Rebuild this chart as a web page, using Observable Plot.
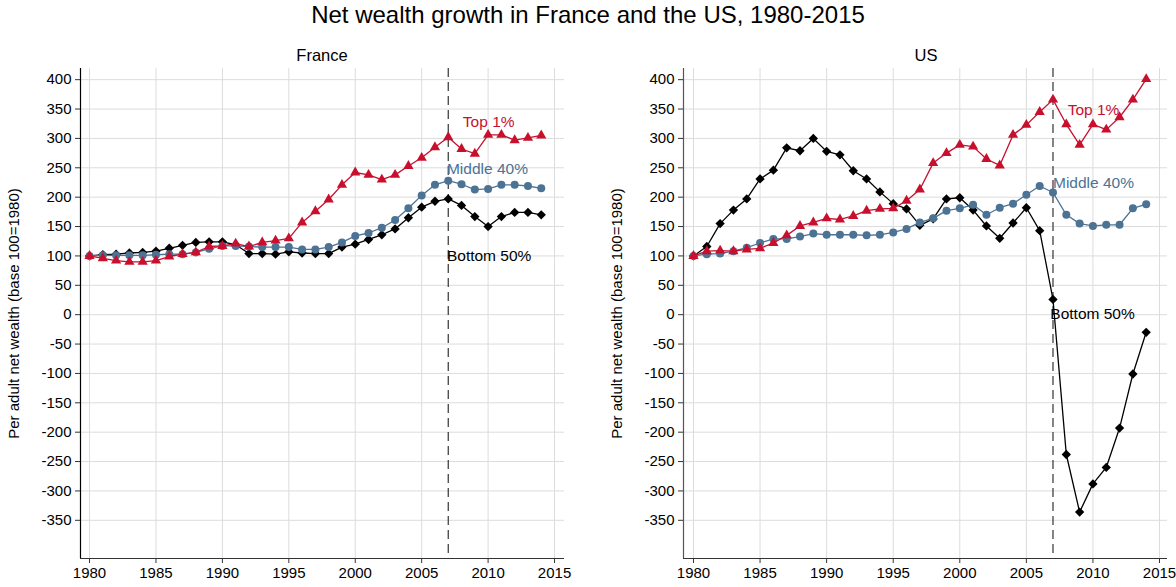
<!DOCTYPE html>
<html>
<head>
<meta charset="utf-8">
<script src="https://cdn.jsdelivr.net/npm/d3@7"></script>
<script src="https://cdn.jsdelivr.net/npm/@observablehq/plot@0.6"></script>
<style>
  body { margin: 0; background: #fff; }
  #wrap { position: relative; width: 1176px; height: 587px; font-family: "Liberation Sans", Arial, sans-serif; color: #000; }
  .ttl { position: absolute; white-space: nowrap; transform: translateX(-50%); }
  .panel { position: absolute; }
</style>
</head>
<body>
<div id="wrap">
  <div class="ttl" style="left:588px; top:1px; font-size:24px;">Net wealth growth in France and the US, 1980-2015</div>
  <div class="ttl" style="left:322px; top:46px; font-size:16.5px;">France</div>
  <div class="ttl" style="left:926px; top:46px; font-size:16.5px;">US</div>
  <div class="panel" id="fr" style="left:0px; top:40px;"></div>
  <div class="panel" id="us" style="left:588px; top:40px;"></div>
</div>
<script>
// ---- data ----
const years = [1980,1981,1982,1983,1984,1985,1986,1987,1988,1989,
               1990,1991,1992,1993,1994,1995,1996,1997,1998,1999,
               2000,2001,2002,2003,2004,2005,2006,2007,2008,2009,
               2010,2011,2012,2013,2014];

const frBottom50 = [100,102,103,105,106,108,113,118,123,124,
                    124,119,104,104,103,107,105,104,104,115,
                    120,128,136,146,165,183,193,197,186,167,
                    150,167,174,174,170];
const frMiddle40 = [100,101,101,101,101,102,103,103,106,112,
                    117,117,116,115,115,115,111,111,115,123,
                    134,139,148,161,181,203,221,228,222,213,
                    214,221,221,219,215];
const frTop1     = [100,96,92,90,90,92,99,103,106,116,
                    117,121,116,123,126,130,157,176,196,221,
                    242,238,230,238,253,267,285,302,282,274,
                    306,306,297,301,305];

const usBottom50 = [100,116,155,178,197,231,246,284,279,300,
                    278,272,245,231,209,189,180,152,163,197,
                    199,178,151,130,156,182,143,26,-238,-336,
                    -288,-260,-193,-101,-30];
const usMiddle40 = [100,103,104,108,114,122,129,129,133,138,
                    136,136,136,135,136,140,146,157,164,177,
                    181,187,170,182,189,204,219,208,170,155,
                    151,153,153,181,188];
const usTop1     = [100,108,109,108,111,113,122,135,151,157,
                    164,162,168,177,180,181,194,213,258,275,
                    289,286,265,254,306,323,345,366,324,289,
                    324,315,336,366,401];

const groups = ["Bottom 50%", "Middle 40%", "Top 1%"];
const xTicks = [1980,1985,1990,1995,2000,2005,2010,2015];
const yTicks = [-350,-300,-250,-200,-150,-100,-50,0,50,100,150,200,250,300,350,400];
const crisisYear = [2007];

// label anchors (year, value) for each group, per panel
const frLabelYears  = [2006.9, 2006.9, 2008.1];
const frLabelValues = [100, 248, 328];
const usLabelYears  = [2006.8, 2007.0, 2008.1];
const usLabelValues = [1, 224, 349];

// ---- styles ----
const colors  = {"Bottom 50%": "#000000", "Middle 40%": "#4c7294", "Top 1%": "#c8102e"};
const symbols = {"Bottom 50%": "diamond2", "Middle 40%": "circle", "Top 1%": "triangle"};
const radii   = {"Bottom 50%": 4.2, "Middle 40%": 4, "Top 1%": 3.8};

function rows(seriesList) {
  const out = [];
  groups.forEach((g, gi) => {
    seriesList[gi].forEach((v, i) => out.push({group: g, year: years[i], value: v}));
  });
  return out;
}

function panel(seriesList, labelYears, labelValues, opts) {
  const data = rows(seriesList);
  const labels = groups.map((g, i) => ({group: g, year: labelYears[i], value: labelValues[i]}));
  const yDomain = [-415, 419];
  const marks = [
    Plot.gridX(xTicks, {stroke: "#dcdcdc", strokeOpacity: 1, strokeWidth: 1}),
    Plot.gridY(yTicks, {stroke: "#dcdcdc", strokeOpacity: 1, strokeWidth: 1}),
    Plot.ruleX(crisisYear, {stroke: "#333", strokeWidth: 1.2, strokeDasharray: "9,5"}),
    Plot.ruleX([opts.xDomain[0]], {stroke: opts.axisColor, strokeWidth: 1.2}),
    Plot.ruleY([yDomain[0]], {stroke: "#333", strokeWidth: 1.2}),
    Plot.axisX(xTicks, {tickSize: 5, tickPadding: 4, tickFormat: d => String(d), label: null, fontSize: 15, stroke: "#333"}),
    Plot.axisY(yTicks, {tickSize: 5, tickPadding: 4, tickFormat: d => String(d), label: "Per adult net wealth (base 100=1980)",
      labelAnchor: "center", labelArrow: "none", labelOffset: 72, fontSize: 15, stroke: "#333"}),
  ];
  for (const g of groups) {
    const d = data.filter(r => r.group === g);
    marks.push(Plot.line(d, {x: "year", y: "value", stroke: colors[g], strokeWidth: 1.3}));
    marks.push(Plot.dot(d, {x: "year", y: "value", fill: colors[g], stroke: "none", symbol: () => symbols[g], r: radii[g]}));
  }
  marks.push(Plot.text(labels, {x: "year", y: "value", text: "group", textAnchor: "start",
    fill: d => colors[d.group], fontSize: 15.5}));
  return Plot.plot({
    width: 588, height: 547,
    marginLeft: opts.marginLeft, marginRight: opts.marginRight, marginTop: 28, marginBottom: 29,
    style: {fontFamily: "Liberation Sans, Arial, sans-serif", fontSize: "15px", color: "#000", background: "transparent", overflow: "visible"},
    x: {domain: opts.xDomain},
    y: {domain: yDomain},
    marks
  });
}

document.getElementById("fr").append(panel([frBottom50, frMiddle40, frTop1], frLabelYears, frLabelValues,
  {xDomain: [1979.32, 2015.75], marginLeft: 80, marginRight: 24, axisColor: "#000"}));
document.getElementById("us").append(panel([usBottom50, usMiddle40, usTop1], usLabelYears, usLabelValues,
  {xDomain: [1979.25, 2015.6], marginLeft: 95, marginRight: 9, axisColor: "#555"}));
</script>
</body>
</html>
